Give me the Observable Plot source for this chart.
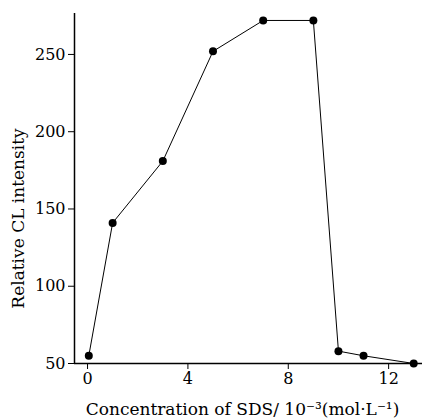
<!DOCTYPE html>
<html>
<head>
<meta charset="utf-8">
<script src="https://cdn.jsdelivr.net/npm/d3@7"></script>
<script src="https://cdn.jsdelivr.net/npm/@observablehq/plot@0.6"></script>
<style>
  html, body { margin: 0; padding: 0; background: #fff; }
  #chart svg { font-family: "DejaVu Serif", serif !important; color: #000; }
  #chart svg text { font-family: "DejaVu Serif", serif !important; }
</style>
</head>
<body>
<div id="chart"></div>
<script>
const concentration = [0.05, 1, 3, 5, 7, 9, 10, 11, 13];
const intensity = [55, 141, 181, 252, 272, 272, 58, 55, 50];
const xTicks = [0, 4, 8, 12];
const yTicks = [50, 100, 150, 200, 250];
const xLabel = "Concentration of SDS/ 10⁻³(mol·L⁻¹)";
const yLabel = "Relative CL intensity";

const data = concentration.map((c, i) => ({c, v: intensity[i]}));

const chart = Plot.plot({
  width: 422,
  height: 419,
  marginLeft: 74,
  marginRight: 0,
  marginTop: 13,
  marginBottom: 56,
  style: {fontSize: "16px"},
  x: {domain: [-0.52, 13.35]},
  y: {domain: [50, 276.5]},
  marks: [
    Plot.axisX({ticks: xTicks, tickSize: 6, tickPadding: 3, fontSize: 16, label: null}),
    Plot.axisY({ticks: yTicks, tickSize: 6, tickPadding: 3, fontSize: 16, label: null}),
    Plot.text([xLabel], {frameAnchor: "bottom", dx: -6, dy: 51, lineAnchor: "bottom", textAnchor: "middle", fontSize: 17, fill: "#000"}),
    Plot.text([yLabel], {frameAnchor: "left", dx: -56, dy: 30, rotate: -90, lineAnchor: "middle", textAnchor: "middle", fontSize: 17, fill: "#000"}),
    Plot.ruleY([50], {stroke: "#000", strokeWidth: 1.5}),
    Plot.ruleX([-0.52], {stroke: "#000", strokeWidth: 1.5}),
    Plot.line(data, {x: "c", y: "v", stroke: "#000", strokeWidth: 1}),
    Plot.dot(data, {x: "c", y: "v", r: 4, fill: "#000", stroke: "none"})
  ]
});
document.getElementById("chart").appendChild(chart);
</script>
</body>
</html>
